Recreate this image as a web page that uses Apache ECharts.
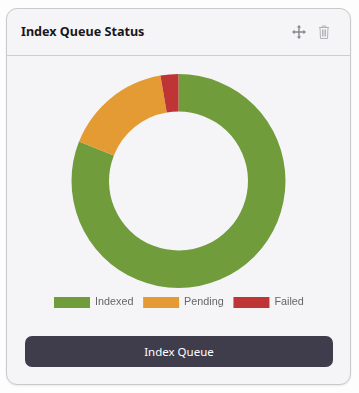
<!DOCTYPE html>
<html><head><meta charset="utf-8">
<style>
html,body{margin:0;padding:0;width:359px;height:393px;background:#fdfdfd;overflow:hidden}
#card{position:absolute;left:6px;top:8px;width:345px;height:377px;box-sizing:border-box;background:#f5f5f8;border:1px solid #c9c9cc;border-radius:11px;box-shadow:0 1px 2px rgba(0,0,0,.08)}
#rule{position:absolute;left:7px;top:55px;width:343px;height:1px;background:#cdcdd0}
#title{position:absolute;left:21px;top:22px;font:700 12.6px/19px "Noto Sans","Open Sans",sans-serif;color:#17171c}
#chart{position:absolute;left:0;top:0;width:359px;height:393px}
#btn{position:absolute;left:25px;top:336px;width:308px;height:31px;background:#3f3c4c;border-radius:7px;color:#fff;font:400 11.5px/31px "Noto Sans","Open Sans",sans-serif;text-align:center}
svg{position:absolute}
</style></head><body>
<div id="card"></div><div id="rule"></div>
<div id="title">Index Queue Status</div>
<div id="chart"></div>
<svg style="left:292px;top:25px" width="14" height="14" viewBox="0 0 14 14" fill="none" stroke="#85858c" stroke-width="1.4">
<path d="M7 1v12M1 7h12"/><path fill="#85858c" stroke="none" d="M7 0l2.2 2.6H4.8zM7 14l2.2-2.6H4.8zM0 7l2.6-2.2v4.4zM14 7l-2.6-2.2v4.4z"/></svg>
<svg style="left:318px;top:25px" width="12" height="14" viewBox="0 0 12 14" fill="none" stroke="#b2b2b6" stroke-width="1">
<path d="M1 2.5h10M4.2 2.5V1h3.6v1.5M2 2.5l.5 11h7l.5-11M4.5 4.5v7M6 4.5v7M7.5 4.5v7"/></svg>
<div id="btn">Index Queue</div>
<script src="https://cdn.jsdelivr.net/npm/echarts@6/dist/echarts.min.js"></script>
<script>
const categories = ['Indexed', 'Pending', 'Failed'];
const values = [81, 16.3, 2.7];
const colors = ['#709c3b', '#e59b33', '#bf3535'];
const chart = echarts.init(document.getElementById('chart'), null, {renderer:'canvas'});
chart.setOption({
  animation:false,
  color:colors,
  legend:{
    data:categories, left:54, top:297, itemWidth:36, itemHeight:11, itemGap:9.7, padding:0,
    icon:'rect',
    textStyle:{fontFamily:'Liberation Sans, Arial, sans-serif', fontSize:10.8, color:'#666'},
    itemStyle:{borderWidth:0}
  },
  series:[{
    type:'pie', center:[178.5,181], radius:[69.5,107], startAngle:90, clockwise:true,
    label:{show:false}, labelLine:{show:false}, silent:true,
    itemStyle:{borderWidth:0},
    data:categories.map((name,i)=>({name,value:values[i]}))
  }]
});
</script></body></html>
